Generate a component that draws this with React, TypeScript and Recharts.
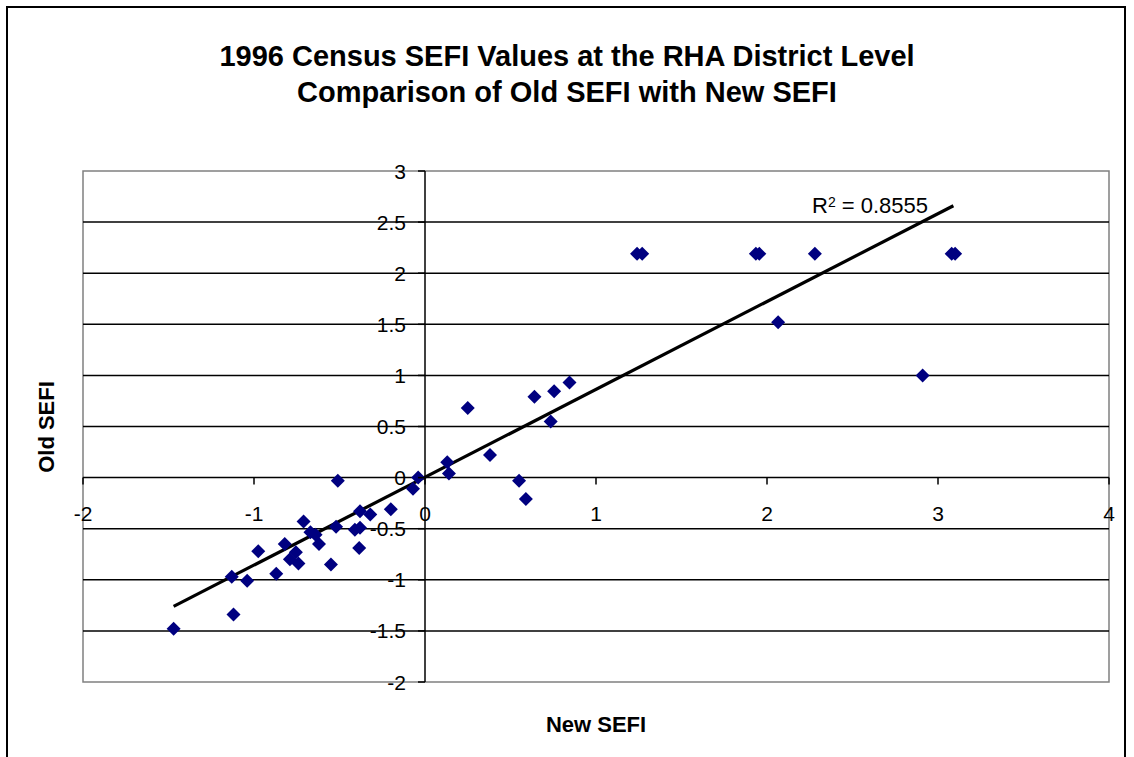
import * as React from 'react'
import { ScatterChart, Scatter, XAxis, YAxis, ReferenceLine, ReferenceArea } from 'recharts'

const NEW_SEFI = [
  -1.47, -1.13, -1.12, -1.04, -0.975, -0.87, -0.82, -0.79, -0.755, -0.74, -0.71,
  -0.67, -0.64, -0.62, -0.55, -0.52, -0.51, -0.41, -0.38, -0.385, -0.38, -0.32,
  -0.2, -0.07, -0.04, 0.13, 0.14, 0.25, 0.38, 0.55, 0.59, 0.64, 0.735, 0.755,
  0.845, 1.24, 1.27, 1.935, 1.955, 2.065, 2.28, 2.91, 3.08, 3.1,
]
const OLD_SEFI = [
  -1.48, -0.97, -1.34, -1.01, -0.72, -0.94, -0.65, -0.8, -0.73, -0.84, -0.43,
  -0.535, -0.56, -0.65, -0.85, -0.48, -0.03, -0.51, -0.49, -0.69, -0.33, -0.36,
  -0.31, -0.11, 0.0, 0.15, 0.04, 0.68, 0.22, -0.03, -0.21, 0.79, 0.55, 0.845,
  0.93, 2.19, 2.19, 2.19, 2.19, 1.52, 2.19, 1.0, 2.19, 2.19,
]
// trendline end points as drawn
const TREND = [
  { x: -1.47, y: -1.26 },
  { x: 3.09, y: 2.66 },
]
const X_TICKS = [-2, -1, 0, 1, 2, 3, 4]
const Y_TICKS = [-2, -1.5, -1, -0.5, 0, 0.5, 1, 1.5, 2, 2.5, 3]
const GRID_Y = [-1.5, -1, -0.5, 0, 0.5, 1, 1.5, 2, 2.5]
const R2_LABEL = '0.8555'

const X_MIN = -2
const X_MAX = 4
const Y_MIN = -2
const Y_MAX = 3

const W = 1134
const H = 757
const AXIS_SIZE = 30
const M = { top: 171, right: 25, bottom: 75 - AXIS_SIZE, left: 83 - AXIS_SIZE }
const PLOT_LEFT = M.left + AXIS_SIZE
const PLOT_W = W - PLOT_LEFT - M.right
const PLOT_H = H - M.top - M.bottom - AXIS_SIZE
const X0 = PLOT_LEFT + (PLOT_W * (0 - X_MIN)) / (X_MAX - X_MIN)
const Y0 = M.top + (PLOT_H * (Y_MAX - 0)) / (Y_MAX - Y_MIN)

const FONT = '"Liberation Sans", Arial, sans-serif'

const points = NEW_SEFI.map((x, i) => ({ x, y: OLD_SEFI[i] }))

function Diamond(props: any) {
  const { cx, cy } = props
  const r = 7
  return (
    <path
      d={`M${cx},${cy - r}L${cx + r},${cy}L${cx},${cy + r}L${cx - r},${cy}Z`}
      fill="#000080"
    />
  )
}

function XTick(props: any) {
  const { x, payload } = props
  return (
    <g>
      <line x1={x} x2={x} y1={Y0} y2={Y0 + 7} stroke="#000" strokeWidth={1.5} />
      <text x={x} y={Y0 + 43} textAnchor="middle" fontSize={21} fontFamily={FONT} fill="#000">
        {payload.value}
      </text>
    </g>
  )
}

function YTick(props: any) {
  const { y, payload } = props
  return (
    <g>
      <line x1={X0 - 7} x2={X0} y1={y} y2={y} stroke="#000" strokeWidth={1.5} />
      <text x={X0 - 19} y={y} dy="0.36em" textAnchor="end" fontSize={21} fontFamily={FONT} fill="#000">
        {payload.value}
      </text>
    </g>
  )
}

export default function App() {
  return (
    <div
      style={{
        position: 'absolute',
        left: 0,
        top: 0,
        width: W,
        height: H,
        overflow: 'hidden',
        background: '#fff',
        fontFamily: FONT,
      }}
    >
      <div
        style={{
          position: 'absolute',
          left: 6,
          top: 6,
          width: 1116,
          height: 820,
          border: '2px solid #000',
        }}
      />
      <div
        style={{
          position: 'absolute',
          left: 0,
          top: 38,
          width: W,
          textAlign: 'center',
          fontWeight: 'bold',
          fontSize: 29,
          lineHeight: '36px',
        }}
      >
        1996 Census SEFI Values at the RHA District Level
        <br />
        Comparison of Old SEFI with New SEFI
      </div>
      <ScatterChart width={W} height={H} margin={M}>
        <XAxis
          type="number"
          dataKey="x"
          domain={[X_MIN, X_MAX]}
          ticks={X_TICKS}
          interval={0}
          height={AXIS_SIZE}
          axisLine={false}
          tickLine={false}
          tick={(p: any) => <XTick {...p} />}
        />
        <YAxis
          type="number"
          dataKey="y"
          domain={[Y_MIN, Y_MAX]}
          ticks={Y_TICKS}
          interval={0}
          width={AXIS_SIZE}
          axisLine={false}
          tickLine={false}
          tick={(p: any) => <YTick {...p} />}
        />
        <ReferenceArea
          x1={X_MIN}
          x2={X_MAX}
          y1={Y_MIN}
          y2={Y_MAX}
          fill="none"
          fillOpacity={0}
          stroke="#808080"
          strokeWidth={1.5}
        />
        {GRID_Y.map((v) => (
          <ReferenceLine key={v} y={v} stroke="#000" strokeWidth={1.5} />
        ))}
        <ReferenceLine x={0} stroke="#000" strokeWidth={1.5} />
        <Scatter data={points} shape={(p: any) => <Diamond {...p} />} isAnimationActive={false} />
        <ReferenceLine
          segment={[TREND[0], TREND[1]]}
          stroke="#000"
          strokeWidth={3.2}
        />
      </ScatterChart>
      <div
        style={{
          position: 'absolute',
          left: 812,
          top: 192,
          fontSize: 22,
          lineHeight: '28px',
          whiteSpace: 'nowrap',
        }}
      >
        R<sup style={{ fontSize: 14, verticalAlign: 'top', position: 'relative', top: -4 }}>2</sup> = {R2_LABEL}
      </div>
      <div
        style={{
          position: 'absolute',
          left: PLOT_LEFT,
          width: PLOT_W,
          top: 712,
          textAlign: 'center',
          fontWeight: 'bold',
          fontSize: 22,
        }}
      >
        New SEFI
      </div>
      <div
        style={{
          position: 'absolute',
          left: 47,
          top: 427,
          transform: 'translate(-50%, -50%) rotate(-90deg)',
          fontWeight: 'bold',
          fontSize: 22,
          whiteSpace: 'nowrap',
        }}
      >
        Old SEFI
      </div>
    </div>
  )
}
